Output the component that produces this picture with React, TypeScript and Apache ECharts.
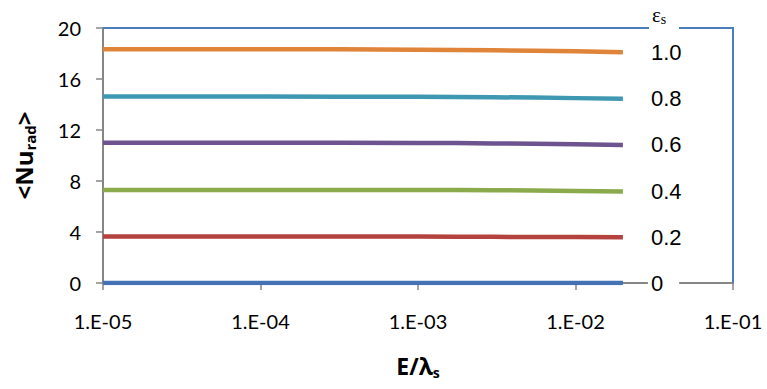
import React, { useEffect, useRef } from "react";
import * as echarts from "echarts";

const xValues = [1e-5, 1e-4, 1e-3, 3e-3, 1e-2, 2e-2];
const seriesNames = ["0", "0.2", "0.4", "0.6", "0.8", "1.0"];
const eps0 = [0, 0, 0, 0, 0, 0];
const eps02 = [3.65, 3.65, 3.64, 3.62, 3.6, 3.58];
const eps04 = [7.3, 7.3, 7.3, 7.28, 7.22, 7.18];
const eps06 = [11.0, 11.0, 10.98, 10.95, 10.88, 10.83];
const eps08 = [14.62, 14.62, 14.6, 14.57, 14.5, 14.45];
const eps10 = [18.33, 18.33, 18.3, 18.25, 18.17, 18.1];
const seriesValues = [eps0, eps02, eps04, eps06, eps08, eps10];
const seriesColors = ["#4472B4", "#B4423F", "#8AAA4C", "#6D5490", "#3F98B2", "#E0843A"];
const xTickLabels: Record<string, string> = {
  "-5": "1.E-05",
  "-4": "1.E-04",
  "-3": "1.E-03",
  "-2": "1.E-02",
  "-1": "1.E-01",
};

export default function App() {
  const ref = useRef<HTMLDivElement>(null);
  useEffect(() => {
    if (!ref.current) return;
    const chart = echarts.init(ref.current, undefined, { renderer: "svg" });
    const gray = "#868686";
    const blue = "#4A7EBB";
    chart.setOption({
      animation: false,
      backgroundColor: "#fff",
      graphic: [
        {
          type: "rect",
          z: 100,
          shape: { x: 103, y: 27, width: 546, height: 2 },
          style: { fill: blue },
        },
        {
          type: "rect",
          z: 100,
          shape: { x: 679, y: 27, width: 55, height: 2 },
          style: { fill: blue },
        },
        {
          type: "rect",
          z: 100,
          shape: { x: 732, y: 27, width: 2, height: 256 },
          style: { fill: blue },
        },
        {
          type: "text",
          z: 100,
          x: 652,
          y: 3,
          style: {
            text: "{e|ε}{s|s}",
            rich: {
              e: { fontFamily: "Liberation Serif", fontSize: 21, fill: "#000" },
              s: { fontFamily: "Liberation Serif", fontSize: 14, fill: "#000", verticalAlign: "bottom", padding: [9, 0, 0, 0] },
            },
          },
        },
      ],
      grid: { left: 103, right: 34, top: 28, bottom: 106 },
      xAxis: {
        type: "log",
        logBase: 10,
        min: 1e-5,
        max: 0.1,
        position: "bottom",
        axisLine: { show: true, onZero: false, lineStyle: { color: gray, width: 2 } },
        axisTick: { show: true, length: 7, lineStyle: { color: gray, width: 1.5 } },
        minorTick: { show: false },
        splitLine: { show: false },
        axisLabel: {
          margin: 28,
          fontFamily: "Lato",
          fontSize: 20,
          color: "#000",
          formatter: (v: number) => xTickLabels[String(Math.round(Math.log10(v)))] ?? "",
        },
        name: "{a|E/λ}{b|s}",
        nameLocation: "middle",
        nameGap: 70,
        nameTextStyle: {
          rich: {
            a: { fontFamily: "Open Sans", fontWeight: "bold", fontSize: 23, color: "#000" },
            b: { fontFamily: "Open Sans", fontWeight: "bold", fontSize: 14, color: "#000", verticalAlign: "bottom", padding: [12, 0, 0, 0] },
          },
        },
      },
      yAxis: {
        type: "value",
        min: 0,
        max: 20,
        interval: 4,
        axisLine: { show: true, onZero: false, lineStyle: { color: gray, width: 2 } },
        axisTick: { show: true, length: 7, lineStyle: { color: gray, width: 1.5 } },
        splitLine: { show: false },
        axisLabel: { margin: 22, fontFamily: "Lato", fontSize: 20, color: "#000" },
        name: "{a|<Nu}{b|rad}{a|>}",
        nameLocation: "middle",
        nameGap: 66,
        nameTextStyle: {
          rich: {
            a: { fontFamily: "Open Sans", fontWeight: "bold", fontSize: 24, color: "#000" },
            b: { fontFamily: "Open Sans", fontWeight: "bold", fontSize: 15, color: "#000", verticalAlign: "bottom", padding: [12, 0, 0, 0] },
          },
        },
      },
      series: seriesValues.map((vals, i) => ({
        type: "line",
        name: seriesNames[i],
        data: xValues.map((x, j) => [x, vals[j]]),
        showSymbol: false,
        smooth: true,
        z: 3,
        lineStyle: { color: seriesColors[i], width: 4.5 },
        endLabel: {
          show: true,
          formatter: seriesNames[i],
          distance: i === 0 ? 25 : 28,
          fontFamily: "Liberation Sans",
          fontSize: 22,
          color: "#000",
          ...(i === 0
            ? { backgroundColor: "#fff", padding: [2, 16, 2, 3] }
            : {}),
        },
      })),
    });
    return () => chart.dispose();
  }, []);
  return <div ref={ref} style={{ width: 767, height: 389, position: "absolute", left: 0, top: 0 }} />;
}
